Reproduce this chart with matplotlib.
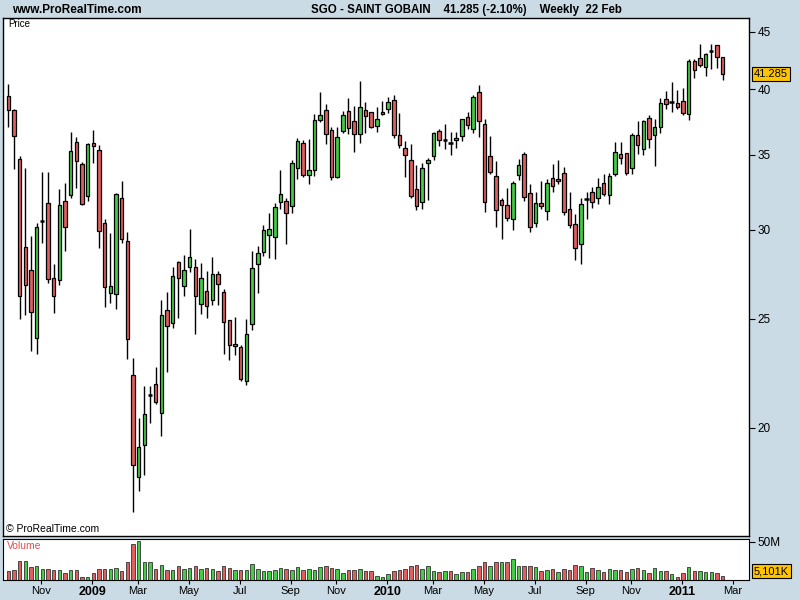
import matplotlib
matplotlib.use("Agg")
import matplotlib.pyplot as plt
import matplotlib.ticker as mticker
import pandas as pd

plt.rcParams['font.family'] = ['Liberation Sans', 'DejaVu Sans']

# weekly SGO candles, starting week of 22 Sep 2008
opens = [39.47, 38.33, 34.67, 28.95, 27.61, 24.02, 30.57, 31.68, 27.16, 27.05,
         31.80, 32.20, 35.90, 34.32, 32.14, 35.83, 35.31, 30.41, 26.34, 26.29,
         32.00, 29.30, 22.27, 18.07, 19.29, 21.40, 21.86, 20.60, 25.44, 24.77,
         28.07, 26.73, 27.78, 27.78, 25.76, 26.45, 25.96, 27.39, 26.39, 24.92,
         23.63, 23.58, 21.99, 24.72, 27.95, 28.65, 29.67, 29.54, 31.74, 31.80,
         31.48, 34.04, 35.83, 33.55, 33.90, 37.55, 38.33, 36.79, 33.42, 36.71,
         38.25, 37.47, 36.49, 38.33, 38.17, 37.10, 38.02, 38.41, 39.13, 36.42,
         35.46, 34.60, 32.60, 31.74, 34.39, 34.88, 36.71, 36.09, 35.87, 36.05,
         36.34, 37.78, 36.86, 39.77, 37.25, 34.88, 33.48, 31.87, 31.55, 30.65,
         33.55, 35.02, 32.33, 30.41, 31.68, 31.17, 33.35, 33.28, 33.69, 31.29,
         30.35, 29.12, 31.94, 32.40, 32.00, 33.00, 32.20, 33.62, 35.02, 35.10,
         34.04, 36.42, 35.38, 37.70, 36.42, 37.02, 39.21, 38.97, 38.89, 39.05,
         38.02, 42.40, 42.66, 41.85, 43.31, 43.80, 42.73]
highs = [40.45, 38.40, 34.90, 34.06, 29.62, 30.41, 33.76, 33.76, 27.97, 32.62,
         33.00, 36.64, 36.27, 34.45, 35.85, 36.81, 35.70, 30.65, 29.79, 32.33,
         33.14, 29.85, 23.06, 20.39, 21.79, 21.80, 22.66, 25.98, 26.43, 27.78,
         28.12, 28.48, 30.05, 28.24, 28.01, 27.55, 28.36, 27.55, 26.56, 24.96,
         25.08, 23.68, 24.98, 28.71, 29.03, 30.30, 31.04, 31.68, 33.92, 32.00,
         34.62, 36.22, 36.07, 36.12, 38.06, 39.77, 38.81, 37.02, 37.02, 38.25,
         39.29, 38.65, 40.68, 38.97, 38.22, 38.57, 39.05, 39.37, 39.53, 38.09,
         35.97, 35.75, 34.25, 34.39, 34.74, 36.64, 36.86, 37.25, 36.64, 36.64,
         37.66, 38.17, 39.53, 40.35, 37.62, 36.34, 34.53, 32.00, 32.67, 33.14,
         34.67, 35.17, 32.94, 32.40, 33.14, 33.28, 34.32, 34.60, 34.11, 32.40,
         30.98, 32.00, 32.40, 32.73, 33.35, 33.62, 33.69, 35.90, 35.90, 35.14,
         36.56, 37.47, 37.55, 37.94, 37.62, 39.29, 39.88, 40.60, 39.93, 40.12,
         42.57, 42.57, 43.89, 43.10, 43.89, 43.85, 42.75]
lows = [37.06, 33.97, 25.01, 25.22, 23.42, 23.25, 29.18, 26.92, 25.29, 26.78,
        28.75, 32.00, 32.67, 31.55, 31.85, 34.39, 28.93, 25.63, 25.81, 25.50,
        29.18, 23.01, 16.84, 17.58, 18.17, 20.21, 20.99, 19.68, 22.43, 24.52,
        25.03, 26.18, 27.53, 24.23, 25.26, 25.04, 25.70, 25.70, 23.25, 22.97,
        23.20, 21.99, 21.82, 24.42, 26.34, 28.46, 28.34, 28.28, 31.29, 29.12,
        31.08, 33.28, 33.42, 32.94, 33.48, 37.45, 35.80, 33.21, 33.35, 36.56,
        36.49, 35.17, 35.83, 36.56, 36.98, 36.64, 37.94, 38.09, 36.20, 35.46,
        33.46, 32.00, 31.23, 31.29, 31.91, 34.60, 35.61, 35.38, 34.95, 35.46,
        35.97, 36.86, 36.56, 36.27, 31.10, 33.62, 30.16, 29.42, 30.53, 29.97,
        33.21, 31.80, 29.85, 30.16, 31.29, 30.59, 32.40, 32.94, 30.91, 30.09,
        28.18, 27.95, 30.65, 31.36, 31.61, 32.14, 31.61, 33.48, 34.32, 33.55,
        33.62, 35.02, 34.95, 35.46, 34.18, 36.56, 38.41, 38.22, 38.41, 37.94,
        37.55, 40.92, 41.85, 41.08, 41.69, 41.77, 40.76]
closes = [38.33, 36.34, 26.18, 26.78, 25.34, 30.16, 30.57, 27.11, 26.18, 31.55,
          30.16, 35.24, 34.53, 31.61, 35.75, 35.61, 29.91, 26.67, 26.73, 32.27,
          29.42, 23.97, 18.52, 19.21, 20.56, 21.40, 21.07, 25.18, 24.62, 27.28,
          27.16, 27.61, 28.36, 26.22, 27.16, 25.65, 27.39, 26.84, 24.82, 23.68,
          23.73, 22.08, 24.22, 27.72, 28.60, 29.97, 30.03, 31.46, 32.27, 31.04,
          34.39, 35.97, 33.55, 33.90, 37.55, 37.94, 36.49, 33.42, 36.27, 37.94,
          36.94, 36.49, 38.57, 37.86, 37.02, 37.62, 38.17, 38.97, 36.42, 35.68,
          34.95, 32.14, 31.48, 34.04, 34.60, 36.56, 36.05, 36.09, 35.87, 36.20,
          37.62, 37.17, 39.37, 37.47, 31.74, 33.76, 31.23, 31.55, 30.72, 33.00,
          34.25, 32.07, 30.16, 31.68, 31.48, 33.00, 32.80, 33.14, 31.10, 30.28,
          28.89, 31.61, 31.94, 31.74, 32.73, 32.27, 33.48, 35.17, 34.74, 33.69,
          36.42, 35.68, 37.47, 36.12, 37.02, 38.89, 38.81, 38.97, 38.57, 38.09,
          42.40, 41.60, 42.02, 43.05, 43.31, 42.73, 41.285]
# volume in millions
volume = [11.8, 13.1, 24.8, 24.8, 17.0, 18.3, 14.4, 14.4, 13.1, 13.1,
          9.1, 13.1, 13.1, 3.9, 3.9, 9.1, 14.4, 14.4, 14.4, 15.7,
          11.7, 23.5, 47.0, 50.9, 23.5, 23.5, 14.4, 19.6, 13.1, 13.1,
          18.3, 14.4, 15.7, 18.3, 14.4, 15.7, 14.4, 11.7, 18.3, 15.7,
          13.1, 13.1, 13.1, 20.9, 14.4, 11.7, 11.7, 13.1, 15.7, 14.4,
          13.1, 17.0, 13.1, 14.4, 13.1, 17.0, 18.3, 15.7, 14.4, 9.1,
          13.1, 13.1, 14.4, 11.7, 11.7, 5.2, 3.9, 7.8, 11.7, 13.1,
          14.4, 18.3, 19.6, 14.4, 18.3, 11.7, 10.4, 11.7, 11.7, 7.8,
          10.4, 10.4, 14.4, 18.3, 23.5, 18.3, 23.5, 23.5, 23.5, 27.4,
          18.3, 18.3, 18.3, 17.0, 11.7, 13.1, 14.4, 10.4, 14.4, 13.1,
          19.6, 18.3, 10.4, 15.7, 13.1, 10.4, 14.4, 13.1, 13.1, 10.4,
          14.4, 15.7, 13.1, 9.1, 15.7, 11.7, 11.7, 7.8, 3.9, 9.1,
          17.0, 11.7, 11.7, 10.4, 10.4, 9.1, 5.1]

month_ticks = [(2008, 11, "Nov"), (2009, 1, "2009"), (2009, 3, "Mar"), (2009, 5, "May"),
               (2009, 7, "Jul"), (2009, 9, "Sep"), (2009, 11, "Nov"), (2010, 1, "2010"),
               (2010, 3, "Mar"), (2010, 5, "May"), (2010, 7, "Jul"), (2010, 9, "Sep"),
               (2010, 11, "Nov"), (2011, 1, "2011"), (2011, 3, "Mar")]
price_ticks = [20, 25, 30, 35, 40, 45]

BG = "#cadbe5"
RED = "#e06060"
GREEN = "#44cc44"

weeks = pd.date_range("2008-09-22", periods=135, freq="W-MON")
n = len(closes)
xs = list(range(n))

fig = plt.figure(figsize=(8, 6), dpi=100, facecolor=BG)
ax = fig.add_axes([3.3 / 800, 1 - 536 / 600, 746 / 800, (536 - 18.3) / 600])
axv = fig.add_axes([3.3 / 800, 1 - 580 / 600, 746 / 800, (580 - 539.3) / 600])

# candles
ax.vlines(xs, lows, highs, color="black", linewidth=1.0, zorder=1)
for i in xs:
    o, c = opens[i], closes[i]
    if o == c:
        ax.hlines(o, i - 0.38, i + 0.38, color="black", linewidth=1.8, zorder=3)
        continue
    col = GREEN if c > o else RED
    ax.bar(i, abs(c - o), bottom=min(o, c), width=0.62, color=col,
           edgecolor="black", linewidth=0.9, zorder=2)

ax.set_yscale("log")
ax.set_ylim(16.02, 46.28)
ax.set_xlim(-0.88, 130.7)
ax.set_facecolor("white")
ax.yaxis.tick_right()
ax.set_yticks(price_ticks)
ax.yaxis.set_major_formatter(mticker.FuncFormatter(lambda v, p: "%d" % v))
ax.yaxis.set_minor_locator(mticker.NullLocator())
ax.tick_params(axis="y", which="major", length=4, width=0.8, pad=2, labelsize=8.5)
ax.set_xticks([])
for s in ax.spines.values():
    s.set_linewidth(1.0)

# volume
vcols = []
for i in xs:
    prev = opens[0] if i == 0 else closes[i - 1]
    vcols.append(GREEN if closes[i] >= prev else RED)
axv.bar(xs, volume, width=0.62, color=vcols, edgecolor="#333333", linewidth=0.6)
axv.set_xlim(-0.88, 130.7)
axv.set_ylim(0, 53.5)
axv.set_facecolor("white")
axv.yaxis.tick_right()
axv.set_yticks([50])
axv.set_yticklabels(["50M"])
axv.tick_params(axis="y", length=4, width=0.8, pad=2, labelsize=8.5)

tpos, tlab = [], []
for (yr, mo, lab) in month_ticks:
    k = next(j for j, d in enumerate(weeks) if d.year == yr and d.month == mo)
    tpos.append(k - 0.15)
    tlab.append(lab)
axv.set_xticks(tpos)
axv.set_xticklabels(tlab)
axv.tick_params(axis="x", length=3, width=0.8, pad=1.5, labelsize=8)
for t in axv.get_xticklabels():
    if t.get_text().isdigit():
        t.set_fontweight("bold")
        t.set_fontsize(9)

# header and labels
fig.text(12 / 800, 1 - 10 / 600, "www.ProRealTime.com", fontsize=8.5, fontweight="bold", va="center")
fig.text(311 / 800, 1 - 10 / 600, "SGO - SAINT GOBAIN    41.285 (-2.10%)    Weekly  22 Feb",
         fontsize=8.3, fontweight="bold", va="center")
fig.text(8 / 800, 1 - 24 / 600, "Price", fontsize=7, va="center")
fig.text(6 / 800, 1 - 529 / 600, "\u00a9 ProRealTime.com", fontsize=7.5, va="center")
fig.text(7 / 800, 1 - 546 / 600, "Volume", fontsize=7.5, color="#e05050", va="center")

box = dict(boxstyle="square,pad=0.15", fc="#ffc400", ec="black", lw=0.8)
fig.text(754 / 800, 1 - 74 / 600, "41.285", fontsize=8, va="center", bbox=box)
fig.text(754 / 800, 1 - 571 / 600, "5,101K", fontsize=8, va="center", bbox=box)

fig.savefig("out.png", dpi=100, facecolor=BG)
